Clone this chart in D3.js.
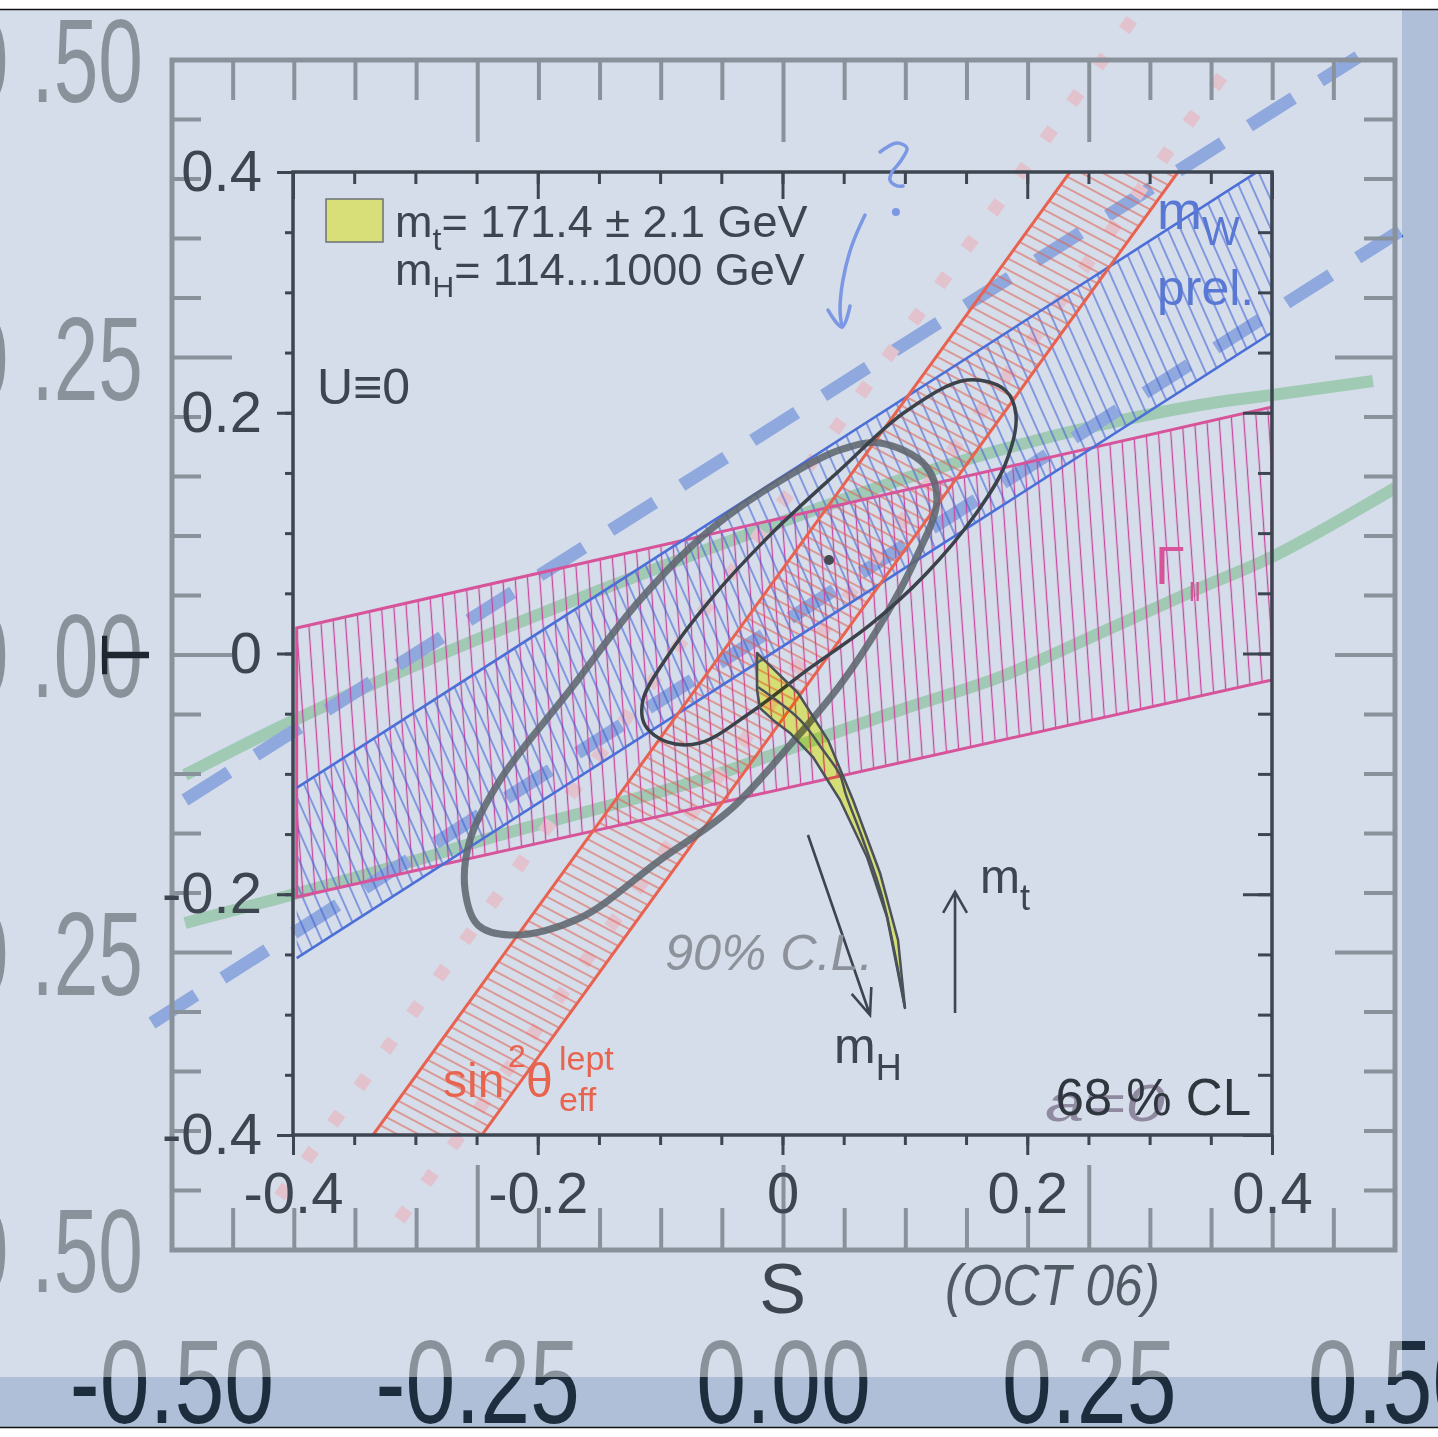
<!DOCTYPE html>
<html lang="en">
<head>
<meta charset="UTF-8">
<title>S-T plane, two plots overlaid</title>
<script src="https://d3js.org/d3.v7.min.js"></script>
<style>
    body{ margin:0; background:#fff; }
    svg{ display:block; }
    text{ font-family: "Liberation Sans", Arial, sans-serif; }
</style>
</head>
<body>
<script>

    // ---------- data ----------
    // inner plot (S, T)
    const innerTicks = [-0.4, -0.2, 0, 0.2, 0.4]
    const gammaTop = [[-0.397, 0.0212], [0.4, 0.2048]]
    const gammaBottom = [[-0.397, -0.2023], [0.4, -0.022]]
    const mwUpper = [[-0.397, -0.1117], [0.4, 0.408]]
    const mwLower = [[-0.397, -0.253], [0.4, 0.2666]]
    const sinLeft = [[-0.3346, -0.4], [0.2349, 0.4]]
    const sinRight = [[-0.2456, -0.4], [0.3232, 0.4]]

    // 90% contour (thick) and 68% contour (thin)
    const loop90 = [[0.0797,0.1749],[0.1164,0.1566],[0.1262,0.1275],[0.1083,0.0777],[0.0797,0.0237],
        [0.0470,-0.0262],[0.0061,-0.0760],[-0.0429,-0.1300],[-0.1001,-0.1716],[-0.1655,-0.2197],
        [-0.2202,-0.2339],[-0.2488,-0.2256],[-0.2594,-0.1965],[-0.2554,-0.1550],[-0.2308,-0.1051],
        [-0.1736,-0.0303],[-0.1164,0.0445],[-0.0594,0.1026],[0.0061,0.1483],[0.0470,0.1691]]
    const loop68 = [[0.1507,0.2272],[0.1818,0.2189],[0.1908,0.1981],[0.1818,0.1566],[0.1573,0.1150],
        [0.1164,0.0652],[0.0715,0.0237],[0.0225,-0.0120],[-0.0266,-0.0494],[-0.0674,-0.0743],
        [-0.0944,-0.0735],[-0.1124,-0.0594],[-0.1140,-0.0386],[-0.0960,-0.0054],[-0.0592,0.0444],
        [-0.0102,0.0984],[0.0470,0.1524],[0.1001,0.2006]]
    const bestFit = [0.038, 0.0777]

    // SM prediction (yellow)
    const smOutline = [[-0.0208,0.0004],[0.0127,-0.0328],[0.0372,-0.0719],[0.0576,-0.1217],[0.0797,-0.1823],
        [0.0944,-0.2380],[0.1001,-0.2945],[0.0854,-0.2189],[0.0690,-0.1690],[0.0470,-0.1217],
        [0.0249,-0.0860],[0.0061,-0.0660],[-0.0078,-0.0552],[-0.0184,-0.0453],[-0.0208,-0.0303]]
    const smInner = [[-0.0200,-0.0278],[0.0143,-0.0552],[0.0331,-0.0802],[0.0470,-0.1009],[0.0519,-0.1175],
        [0.0658,-0.1549],[0.0821,-0.2047],[0.1001,-0.2945]]
    const arrowMH = [[0.0208,-0.1508],[0.0715,-0.3003]]
    const arrowMt = [[0.1410,-0.2986],[0.1410,-0.1981]]

    // pen marks (S, T)
    const penQuestion = [[0.0797,0.4166],[0.0936,0.4241],[0.1017,0.4199],[0.0960,0.4083],[0.0895,0.4000],
        [0.0878,0.3933],[0.0936,0.3884],[0.0985,0.3884]]
    const penDot = [0.0927, 0.3668]
    const penArrow = [[0.0674,0.3643],[0.0568,0.3393],[0.0494,0.3102],[0.0470,0.2853],[0.0486,0.2712]]
    const penHead = [[0.0372,0.2853],[0.0486,0.2712],[0.0552,0.2887]]

    // background plot (its own units)
    const outerTicks = [-0.5, -0.25, 0, 0.25, 0.5]
    const outerTickLabels = ["-0.50", "-0.25", "0.00", "0.25", "0.50"]
    const greenUpper = [[-0.4894,-0.1008],[-0.4117,-0.0605],[-0.3136,-0.0143],[-0.2318,0.0210],[-0.1500,0.0546],
        [-0.0683,0.0866],[0.0135,0.1176],[0.0953,0.1471],[0.1770,0.1723],[0.2588,0.1933],[0.3405,0.2101],
        [0.3994,0.2185],[0.4820,0.2303]]
    const greenLower = [[-0.4894,-0.2252],[-0.4117,-0.2042],[-0.3136,-0.1765],[-0.2318,-0.1513],[-0.1500,-0.1286],
        [-0.0683,-0.1050],[0.0135,-0.0756],[0.0953,-0.0462],[0.1770,-0.0185],[0.2588,0.0185],[0.3405,0.0563],
        [0.3994,0.0824],[0.5000,0.1403]]
    const dashUpper = [[-0.4894,-0.1218],[0.4697,0.5025]]
    const dashLower = [[-0.5164,-0.3092],[0.5041,0.3563]]
    const diamondsLeft = [[0.2817,0.5294],[-0.4199,-0.4664]]
    const diamondsRight = [[0.3553,0.4815],[-0.3242,-0.4891]]

    // ---------- setup ----------
    const width = 1438, height = 1437
    const svg = d3.select("body").append("svg").attr("width", width).attr("height", height)

    const x = d3.scaleLinear().domain([-0.4, 0.4]).range([293, 1272])
    const y = d3.scaleLinear().domain([-0.4, 0.4]).range([1135, 172])
    const X = d3.scaleLinear().domain([-0.5, 0.5]).range([172, 1395])
    const Y = d3.scaleLinear().domain([-0.5, 0.5]).range([1250, 60])

    const line = d3.line().x(d => x(d[0])).y(d => y(d[1]))
    const lineOuter = d3.line().x(d => X(d[0])).y(d => Y(d[1]))

    const dark = "#1e2d3e"
    const axisC = "#3d4550"

    const defs = svg.append("defs")
    function hatch(id, w, h, rot, stroke, sw, horizontal) {
        const p = defs.append("pattern").attr("id", id).attr("patternUnits", "userSpaceOnUse")
            .attr("width", w).attr("height", h).attr("patternTransform", `rotate(${rot})`)
        if (horizontal) p.append("line").attr("x1", 0).attr("x2", w).attr("y1", h / 2).attr("y2", h / 2)
                .attr("stroke", stroke).attr("stroke-width", sw)
        else p.append("line").attr("x1", w / 2).attr("x2", w / 2).attr("y1", 0).attr("y2", h)
                .attr("stroke", stroke).attr("stroke-width", sw)
    }
    hatch("hPink", 12.3, 10, -4, "#c9459d", 1.3, false)
    hatch("hBlue", 11.8, 10, -24, "#4060d4", 1.1, false)
    hatch("hRed", 10, 10, 28, "#e0604f", 1.1, true)
    defs.append("clipPath").attr("id", "plotClip").append("rect")
        .attr("x", x(-0.4)).attr("y", y(0.4)).attr("width", x(0.4) - x(-0.4)).attr("height", y(-0.4) - y(0.4))

    // ---------- background plot (under the wash) ----------
    const under = svg.append("g")
    under.append("rect").attr("x", 0).attr("y", 0).attr("width", width).attr("height", height).attr("fill", "#aebfd7")

    under.append("path").datum(greenUpper).attr("d", lineOuter.curve(d3.curveCatmullRom))
        .attr("fill", "none").attr("stroke", "#4a9a70").attr("stroke-width", 12)
    under.append("path").datum(greenLower).attr("d", lineOuter.curve(d3.curveCatmullRom))
        .attr("fill", "none").attr("stroke", "#4a9a70").attr("stroke-width", 12)
    lineOuter.curve(d3.curveLinear)
    ;[dashUpper, dashLower].forEach(d => {
        under.append("path").datum(d).attr("d", lineOuter)
            .attr("fill", "none").attr("stroke", "#2a58c0").attr("stroke-width", 13)
            .attr("stroke-dasharray", "52 32")
    })
    ;[diamondsLeft, diamondsRight].forEach(d => {
        under.append("path").datum(d).attr("d", lineOuter)
            .attr("fill", "none").attr("stroke", "#c88aa0").attr("stroke-width", 13)
            .attr("stroke-linecap", "square").attr("stroke-dasharray", "0.1 44.9")
    })

    // frame + ticks
    under.append("rect").attr("x", X(-0.5)).attr("y", Y(0.5))
        .attr("width", X(0.5) - X(-0.5)).attr("height", Y(-0.5) - Y(0.5))
        .attr("fill", "none").attr("stroke", dark).attr("stroke-width", 5)
    const outerMinor = d3.range(-0.45, 0.4501, 0.05)
    const isLong = v => Math.abs(v * 4 - Math.round(v * 4)) < 1e-6
    const gT = under.append("g").attr("stroke", dark).attr("stroke-width", 4)
    outerMinor.forEach(v => {
        const L = isLong(v)
        gT.append("line").attr("x1", X(v)).attr("x2", X(v)).attr("y1", Y(0.5)).attr("y2", Y(0.5) + (L ? 82 : 40))
        gT.append("line").attr("x1", X(v)).attr("x2", X(v)).attr("y1", Y(-0.5)).attr("y2", Y(-0.5) - (L ? 85 : 42))
        gT.append("line").attr("y1", Y(v)).attr("y2", Y(v)).attr("x1", X(-0.5)).attr("x2", X(-0.5) + (L ? 60 : 29))
        gT.append("line").attr("y1", Y(v)).attr("y2", Y(v)).attr("x1", X(0.5)).attr("x2", X(0.5) - (L ? 60 : 31))
    })
    outerTicks.forEach((u, i) => {
        const lab = outerTickLabels[i]
        under.append("text").text(lab)
            .attr("transform", `translate(${X(u)},1423) scale(0.76,1)`)
            .attr("text-anchor", "middle").attr("font-size", 118).attr("fill", dark)
        // left labels run off the page edge; the narrow face leaves a wide gap before the point
        const k = lab.indexOf(".")
        const t = under.append("text")
            .attr("transform", `translate(143,${Y(u) + 42}) scale(0.68,1)`)
            .attr("text-anchor", "end").attr("font-size", 118).attr("fill", dark)
        t.append("tspan").text(lab.slice(0, k))
        t.append("tspan").text(lab.slice(k)).attr("dx", 34)
    })

    // white wash over the photographed page
    svg.append("rect").attr("x", 0).attr("y", 0).attr("width", 1402).attr("height", 1377)
        .attr("fill", "#fff").attr("opacity", 0.48)

    // ---------- inner plot ----------
    const g = svg.append("g")
    const bands = g.append("g").attr("clip-path", "url(#plotClip)")

    const gammaPoly = gammaTop.concat(gammaBottom.slice().reverse())
    const mwPoly = mwUpper.concat(mwLower.slice().reverse())
    const sinPoly = sinLeft.concat(sinRight.slice().reverse())

    bands.append("path").datum(gammaPoly).attr("d", d => line(d) + "Z").attr("fill", "url(#hPink)")
    bands.append("path").datum(mwPoly).attr("d", d => line(d) + "Z").attr("fill", "url(#hBlue)")
    bands.append("path").datum(sinPoly).attr("d", d => line(d) + "Z").attr("fill", "url(#hRed)")

    bands.append("path").datum(gammaPoly).attr("d", d => line(d) + "Z")
        .attr("fill", "none").attr("stroke", "#d8549a").attr("stroke-width", 3)
    ;[mwUpper, mwLower, [mwLower[1], mwUpper[1]]].forEach(d => {
        bands.append("path").datum(d).attr("d", line)
            .attr("fill", "none").attr("stroke", "#4b6fd6").attr("stroke-width", 2.6)
    })
    ;[sinLeft, sinRight].forEach(d => {
        bands.append("path").datum(d).attr("d", line)
            .attr("fill", "none").attr("stroke", "#e8624f").attr("stroke-width", 3)
    })

    // contours
    const closed = d3.line().x(d => x(d[0])).y(d => y(d[1])).curve(d3.curveCatmullRomClosed)
    g.append("path").datum(loop90).attr("d", closed)
        .attr("fill", "none").attr("stroke", "#5f676f").attr("stroke-width", 7).attr("opacity", 0.88)
    g.append("path").datum(loop68).attr("d", closed)
        .attr("fill", "none").attr("stroke", "#3b424a").attr("stroke-width", 3.5)
    g.append("circle").attr("cx", x(bestFit[0])).attr("cy", y(bestFit[1])).attr("r", 5).attr("fill", "#444b52")

    // SM band
    g.append("path").datum(smOutline).attr("d", d => line(d) + "Z")
        .attr("fill", "#ffff80").style("mix-blend-mode", "multiply")
    g.append("path").datum(smOutline).attr("d", d => line(d) + "Z")
        .attr("fill", "none").attr("stroke", "#4a5159").attr("stroke-width", 2.5).attr("stroke-linejoin", "round")
    g.append("path").datum(smInner).attr("d", line.curve(d3.curveCatmullRom))
        .attr("fill", "none").attr("stroke", "#4a5159").attr("stroke-width", 2.5)
    line.curve(d3.curveLinear)

    function arrow(d, len, ang) {
        const p0 = [x(d[0][0]), y(d[0][1])], p1 = [x(d[1][0]), y(d[1][1])]
        const a = Math.atan2(p1[1] - p0[1], p1[0] - p0[0]) + Math.PI
        const h1 = [p1[0] + len * Math.cos(a - ang), p1[1] + len * Math.sin(a - ang)]
        const h2 = [p1[0] + len * Math.cos(a + ang), p1[1] + len * Math.sin(a + ang)]
        g.append("path").attr("d", `M${p0}L${p1}M${h1}L${p1}L${h2}`)
            .attr("fill", "none").attr("stroke", axisC).attr("stroke-width", 2.6)
    }
    arrow(arrowMH, 28, 0.38)
    arrow(arrowMt, 24, 0.52)

    // axes
    g.append("rect").attr("x", x(-0.4)).attr("y", y(0.4))
        .attr("width", x(0.4) - x(-0.4)).attr("height", y(-0.4) - y(0.4))
        .attr("fill", "none").attr("stroke", axisC).attr("stroke-width", 3.5)
    const innerMinor = d3.range(-0.4, 0.4001, 0.05)
    function styleAxis(sel) {
        sel.select(".domain").remove()
        sel.selectAll("line").attr("stroke", axisC).attr("stroke-width", 3)
        sel.selectAll("text").attr("fill", axisC).attr("font-size", 58)
            .attr("font-family", "'Liberation Sans', Arial, sans-serif")
    }
    const fmt = d => String(d)
    g.append("g").attr("transform", `translate(0,${y(-0.4)})`)
        .call(d3.axisBottom(x).tickValues(innerMinor).tickSize(10).tickFormat("")).call(styleAxis)
    g.append("g").attr("transform", `translate(0,${y(-0.4)})`)
        .call(d3.axisBottom(x).tickValues(innerTicks).tickSize(20).tickPadding(17).tickFormat(fmt)).call(styleAxis)
    g.append("g").attr("transform", `translate(0,${y(0.4)})`)
        .call(d3.axisTop(x).tickValues(innerMinor).tickSize(-12).tickFormat("")).call(styleAxis)
    g.append("g").attr("transform", `translate(0,${y(0.4)})`)
        .call(d3.axisTop(x).tickValues(innerTicks).tickSize(-27).tickFormat("")).call(styleAxis)
    g.append("g").attr("transform", `translate(${x(-0.4)},0)`)
        .call(d3.axisLeft(y).tickValues(innerMinor).tickSize(8).tickFormat("")).call(styleAxis)
    g.append("g").attr("transform", `translate(${x(-0.4)},0)`)
        .call(d3.axisLeft(y).tickValues(innerTicks).tickSize(16).tickPadding(15).tickFormat(fmt)).call(styleAxis)
    g.append("g").attr("transform", `translate(${x(0.4)},0)`)
        .call(d3.axisRight(y).tickValues(innerMinor).tickSize(-14).tickFormat("")).call(styleAxis)
    g.append("g").attr("transform", `translate(${x(0.4)},0)`)
        .call(d3.axisRight(y).tickValues(innerTicks).tickSize(-29).tickFormat("")).call(styleAxis)

    // axis titles
    g.append("text").text("S").attr("x", x(0)).attr("y", 1313)
        .attr("text-anchor", "middle").attr("font-size", 70).attr("fill", axisC)
    g.append("text").text("T").attr("transform", "translate(149,655) rotate(-90)")
        .attr("text-anchor", "middle").attr("font-size", 68).attr("fill", "#1e2630")

    // legend
    g.append("rect").attr("x", 326).attr("y", 199).attr("width", 57).attr("height", 43)
        .attr("fill", "#d8df78").attr("stroke", "#6b7178").attr("stroke-width", 1.5)
    function subText(xp, yp, main, sub, rest, fs, sfs, dy, color) {
        const t = g.append("text").attr("x", xp).attr("y", yp).attr("font-size", fs).attr("fill", color)
        t.append("tspan").text(main)
        t.append("tspan").text(sub).attr("font-size", sfs).attr("dy", dy)
        if (rest) t.append("tspan").text(rest).attr("dy", -dy)
        return t
    }
    subText(395, 237, "m", "t", "= 171.4 ± 2.1 GeV", 45, 32, 13, axisC)
    subText(395, 285, "m", "H", "= 114...1000 GeV", 45, 30, 12, axisC)
    g.append("text").text("U≡0").attr("x", 317).attr("y", 404).attr("font-size", 50).attr("fill", axisC)

    // handwritten a=0 sits under the printed CL label
    g.append("text").text("a=0").attr("x", 1045).attr("y", 1121)
        .attr("font-family", "'DejaVu Sans', sans-serif").attr("font-style", "italic").attr("font-weight", 300)
        .attr("font-size", 52).attr("textLength", 120).attr("lengthAdjust", "spacingAndGlyphs")
        .attr("fill", "#857c95").attr("opacity", 0.85)
    g.append("text").text("68 % CL").attr("x", 1251).attr("y", 1115)
        .attr("text-anchor", "end").attr("font-size", 51).attr("fill", "#2f363e")

    // band labels
    subText(1157, 229, "m", "W", null, 54, 40, 16, "#5878d4")
    g.append("text").text("prel.").attr("x", 1157).attr("y", 305).attr("font-size", 50).attr("fill", "#5878d4")
    g.append("text").text("Γ").attr("x", 1155).attr("y", 584)
        .attr("font-family", "'Liberation Serif', serif").attr("font-size", 54).attr("fill", "#d8549a")
    g.append("text").text("ll").attr("x", 1189).attr("y", 601)
        .attr("font-size", 26).attr("fill", "#d8549a")
    const redC = "#e8644f"
    g.append("text").text("sin").attr("x", 443).attr("y", 1097).attr("font-size", 48).attr("fill", redC)
    g.append("text").text("2").attr("x", 508).attr("y", 1067).attr("font-size", 32).attr("fill", redC)
    g.append("text").text("θ").attr("x", 526).attr("y", 1097).attr("font-size", 48).attr("fill", redC)
    g.append("text").text("lept").attr("x", 559).attr("y", 1070).attr("font-size", 34).attr("fill", redC)
    g.append("text").text("eff").attr("x", 559).attr("y", 1111).attr("font-size", 34).attr("fill", redC)

    subText(834, 1063, "m", "H", null, 50, 36, 17, axisC)
    subText(980, 893, "m", "t", null, 48, 36, 17, axisC)

    // ---------- pen annotations ----------
    const pen = svg.append("g")
    const penLine = d3.line().x(d => x(d[0])).y(d => y(d[1])).curve(d3.curveCatmullRom)
    ;[penQuestion, penArrow, penHead].forEach(d => {
        pen.append("path").datum(d).attr("d", penLine)
            .attr("fill", "none").attr("stroke", "#7c98e4").attr("stroke-width", 3.5)
            .attr("stroke-linecap", "round").attr("stroke-linejoin", "round")
    })
    pen.append("circle").attr("cx", x(penDot[0])).attr("cy", y(penDot[1])).attr("r", 4).attr("fill", "#7c98e4")

    pen.append("text").text("90% C.L.").attr("x", 665).attr("y", 970)
        .attr("font-family", "'DejaVu Sans', sans-serif").attr("font-style", "italic").attr("font-weight", 300)
        .attr("font-size", 50).attr("textLength", 208).attr("lengthAdjust", "spacingAndGlyphs")
        .attr("fill", "#8d929a")
    pen.append("text").text("(OCT 06)").attr("x", 945).attr("y", 1305)
        .attr("font-family", "'DejaVu Sans', sans-serif").attr("font-style", "italic").attr("font-weight", 300)
        .attr("font-size", 58).attr("textLength", 215).attr("lengthAdjust", "spacingAndGlyphs")
        .attr("fill", "#505a65")

    // page margins of the photo
    svg.append("rect").attr("x", 0).attr("y", 0).attr("width", width).attr("height", 9).attr("fill", "#fff")
    svg.append("rect").attr("x", 0).attr("y", 1428).attr("width", width).attr("height", 9).attr("fill", "#fff")
    svg.append("line").attr("x1", 0).attr("x2", width).attr("y1", 9.5).attr("y2", 9.5).attr("stroke", "#111").attr("stroke-width", 1.5)
    svg.append("line").attr("x1", 0).attr("x2", width).attr("y1", 1427.5).attr("y2", 1427.5).attr("stroke", "#111").attr("stroke-width", 1.5)

</script>
</body>
</html>
